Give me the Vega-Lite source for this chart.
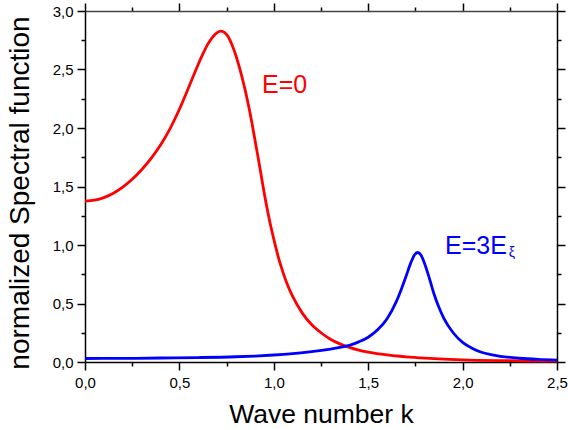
{
  "$schema": "https://vega.github.io/schema/vega-lite/v6.json",
  "width": 472,
  "height": 351,
  "autosize": "none",
  "padding": {"left": 85, "top": 11, "right": 11, "bottom": 68},
  "background": "white",
  "config": {
    "view": {"stroke": null},
    "font": "Liberation Sans",
    "axis": {
      "grid": false,
      "domainColor": "black",
      "domainWidth": 1.5,
      "tickColor": "black",
      "tickWidth": 1.5,
      "labelColor": "black",
      "labelFont": "Liberation Sans",
      "labelFontSize": 15,
      "labelOverlap": false,
      "labelFlush": false,
      "titleFont": "Liberation Sans",
      "titleFontWeight": "normal",
      "titleColor": "black"
    }
  },
  "datasets": {
    "curves": [
      {"series": "E=0", "k": 0.0, "v": 1.375},
      {"series": "E=0", "k": 0.05, "v": 1.383},
      {"series": "E=0", "k": 0.1, "v": 1.405},
      {"series": "E=0", "k": 0.15, "v": 1.443},
      {"series": "E=0", "k": 0.2, "v": 1.495},
      {"series": "E=0", "k": 0.25, "v": 1.562},
      {"series": "E=0", "k": 0.3, "v": 1.643},
      {"series": "E=0", "k": 0.35, "v": 1.74},
      {"series": "E=0", "k": 0.4, "v": 1.855},
      {"series": "E=0", "k": 0.45, "v": 1.993},
      {"series": "E=0", "k": 0.5, "v": 2.16},
      {"series": "E=0", "k": 0.55, "v": 2.35},
      {"series": "E=0", "k": 0.6, "v": 2.545},
      {"series": "E=0", "k": 0.625, "v": 2.635},
      {"series": "E=0", "k": 0.65, "v": 2.715},
      {"series": "E=0", "k": 0.675, "v": 2.775},
      {"series": "E=0", "k": 0.7, "v": 2.815},
      {"series": "E=0", "k": 0.72, "v": 2.828},
      {"series": "E=0", "k": 0.74, "v": 2.815},
      {"series": "E=0", "k": 0.76, "v": 2.775},
      {"series": "E=0", "k": 0.78, "v": 2.705},
      {"series": "E=0", "k": 0.8, "v": 2.615},
      {"series": "E=0", "k": 0.82, "v": 2.505},
      {"series": "E=0", "k": 0.84, "v": 2.38},
      {"series": "E=0", "k": 0.86, "v": 2.24},
      {"series": "E=0", "k": 0.88, "v": 2.08},
      {"series": "E=0", "k": 0.9, "v": 1.9},
      {"series": "E=0", "k": 0.92, "v": 1.72},
      {"series": "E=0", "k": 0.94, "v": 1.53},
      {"series": "E=0", "k": 0.96, "v": 1.35},
      {"series": "E=0", "k": 0.98, "v": 1.19},
      {"series": "E=0", "k": 1.0, "v": 1.05},
      {"series": "E=0", "k": 1.025, "v": 0.89},
      {"series": "E=0", "k": 1.05, "v": 0.76},
      {"series": "E=0", "k": 1.075, "v": 0.65},
      {"series": "E=0", "k": 1.1, "v": 0.56},
      {"series": "E=0", "k": 1.15, "v": 0.42},
      {"series": "E=0", "k": 1.2, "v": 0.32},
      {"series": "E=0", "k": 1.25, "v": 0.25},
      {"series": "E=0", "k": 1.3, "v": 0.195},
      {"series": "E=0", "k": 1.35, "v": 0.155},
      {"series": "E=0", "k": 1.4, "v": 0.125},
      {"series": "E=0", "k": 1.45, "v": 0.102},
      {"series": "E=0", "k": 1.5, "v": 0.085},
      {"series": "E=0", "k": 1.6, "v": 0.06},
      {"series": "E=0", "k": 1.7, "v": 0.044},
      {"series": "E=0", "k": 1.8, "v": 0.033},
      {"series": "E=0", "k": 1.9, "v": 0.025},
      {"series": "E=0", "k": 2.0, "v": 0.019},
      {"series": "E=0", "k": 2.2, "v": 0.012},
      {"series": "E=0", "k": 2.4, "v": 0.008},
      {"series": "E=0", "k": 2.5, "v": 0.007},
      {"series": "E=3Eξ", "k": 0.0, "v": 0.03},
      {"series": "E=3Eξ", "k": 0.2, "v": 0.031},
      {"series": "E=3Eξ", "k": 0.4, "v": 0.034},
      {"series": "E=3Eξ", "k": 0.6, "v": 0.038},
      {"series": "E=3Eξ", "k": 0.8, "v": 0.045},
      {"series": "E=3Eξ", "k": 0.9, "v": 0.051},
      {"series": "E=3Eξ", "k": 1.0, "v": 0.06},
      {"series": "E=3Eξ", "k": 1.1, "v": 0.072},
      {"series": "E=3Eξ", "k": 1.2, "v": 0.088},
      {"series": "E=3Eξ", "k": 1.3, "v": 0.11},
      {"series": "E=3Eξ", "k": 1.35, "v": 0.124},
      {"series": "E=3Eξ", "k": 1.4, "v": 0.142},
      {"series": "E=3Eξ", "k": 1.45, "v": 0.172},
      {"series": "E=3Eξ", "k": 1.5, "v": 0.212},
      {"series": "E=3Eξ", "k": 1.55, "v": 0.275},
      {"series": "E=3Eξ", "k": 1.6, "v": 0.37},
      {"series": "E=3Eξ", "k": 1.65, "v": 0.52},
      {"series": "E=3Eξ", "k": 1.675, "v": 0.62},
      {"series": "E=3Eξ", "k": 1.7, "v": 0.73},
      {"series": "E=3Eξ", "k": 1.725, "v": 0.845},
      {"series": "E=3Eξ", "k": 1.745, "v": 0.915},
      {"series": "E=3Eξ", "k": 1.762, "v": 0.936},
      {"series": "E=3Eξ", "k": 1.78, "v": 0.912},
      {"series": "E=3Eξ", "k": 1.8, "v": 0.835},
      {"series": "E=3Eξ", "k": 1.825, "v": 0.71},
      {"series": "E=3Eξ", "k": 1.85, "v": 0.575},
      {"series": "E=3Eξ", "k": 1.875, "v": 0.465},
      {"series": "E=3Eξ", "k": 1.9, "v": 0.375},
      {"series": "E=3Eξ", "k": 1.95, "v": 0.25},
      {"series": "E=3Eξ", "k": 2.0, "v": 0.168},
      {"series": "E=3Eξ", "k": 2.05, "v": 0.118},
      {"series": "E=3Eξ", "k": 2.1, "v": 0.083},
      {"series": "E=3Eξ", "k": 2.15, "v": 0.063},
      {"series": "E=3Eξ", "k": 2.2, "v": 0.049},
      {"series": "E=3Eξ", "k": 2.3, "v": 0.032},
      {"series": "E=3Eξ", "k": 2.4, "v": 0.022},
      {"series": "E=3Eξ", "k": 2.5, "v": 0.016}
    ],
    "labels": [
      {"series": "E=0", "text": "E=0", "k": 0.9375, "v": 2.3},
      {"series": "E=3Eξ", "text": "E=3E", "k": 1.907, "v": 0.927}
    ],
    "subs": [
      {"series": "E=3Eξ", "text": "ξ", "k": 2.245, "v": 0.9}
    ]
  },
  "resolve": {"axis": {"x": "independent", "y": "independent"}},
  "layer": [
    {
      "data": {"name": "curves"},
      "mark": {"type": "line", "strokeWidth": 2.8, "interpolate": "monotone"},
      "encoding": {
        "x": {
          "field": "k", "type": "quantitative",
          "scale": {"domain": [0, 2.5], "nice": false, "zero": false},
          "axis": {
            "orient": "bottom",
            "values": [0, 0.25, 0.5, 0.75, 1, 1.25, 1.5, 1.75, 2, 2.25, 2.5],
            "labelExpr": "abs(datum.value*2 - round(datum.value*2)) > 0.01 ? '' : replace(format(datum.value, '.1f'), '.', ',')",
            "tickSize": {"condition": {"test": "abs(datum.value*2 - round(datum.value*2)) > 0.01", "value": 4}, "value": 8},
            "labelPadding": 5,
            "title": "Wave number k",
            "titleFontSize": 26.5,
            "titleX": 236,
            "titleY": 60,
            "titleAlign": "center",
            "titleBaseline": "alphabetic"
          }
        },
        "y": {
          "field": "v", "type": "quantitative",
          "scale": {"domain": [0, 3], "nice": false, "zero": false},
          "axis": {
            "orient": "left",
            "values": [0, 0.25, 0.5, 0.75, 1, 1.25, 1.5, 1.75, 2, 2.25, 2.5, 2.75, 3],
            "labelExpr": "abs(datum.value*2 - round(datum.value*2)) > 0.01 ? '' : replace(format(datum.value, '.1f'), '.', ',')",
            "tickSize": {"condition": {"test": "abs(datum.value*2 - round(datum.value*2)) > 0.01", "value": 4}, "value": 8},
            "labelPadding": 4,
            "title": "normalized Spectral function",
            "titleFontSize": 28,
            "titleAngle": 270,
            "titleX": -57,
            "titleY": 181.5,
            "titleAlign": "center",
            "titleBaseline": "alphabetic"
          }
        },
        "color": {
          "field": "series", "type": "nominal",
          "scale": {"domain": ["E=0", "E=3Eξ"], "range": ["#ff0000", "#0000ff"]},
          "legend": null
        }
      }
    },
    {
      "data": {"name": "curves"},
      "mark": {"type": "line", "strokeOpacity": 0},
      "encoding": {
        "x": {
          "field": "k", "type": "quantitative",
          "scale": {"domain": [0, 2.5], "nice": false, "zero": false},
          "axis": {
            "orient": "top",
            "values": [0, 0.25, 0.5, 0.75, 1, 1.25, 1.5, 1.75, 2, 2.25, 2.5],
            "labels": false,
            "title": null,
            "domainColor": "#444444",
            "tickSize": {"condition": {"test": "abs(datum.value*2 - round(datum.value*2)) > 0.01", "value": 4}, "value": 8}
          }
        },
        "y": {
          "field": "v", "type": "quantitative",
          "scale": {"domain": [0, 3], "nice": false, "zero": false},
          "axis": {
            "orient": "right",
            "values": [0, 0.25, 0.5, 0.75, 1, 1.25, 1.5, 1.75, 2, 2.25, 2.5, 2.75, 3],
            "labels": false,
            "title": null,
            "tickSize": {"condition": {"test": "abs(datum.value*2 - round(datum.value*2)) > 0.01", "value": 4}, "value": 8}
          }
        },
        "detail": {"field": "series", "type": "nominal"}
      }
    },
    {
      "data": {"name": "labels"},
      "mark": {"type": "text", "align": "left", "baseline": "alphabetic", "fontSize": 25, "font": "Liberation Sans"},
      "encoding": {
        "x": {"field": "k", "type": "quantitative", "axis": null},
        "y": {"field": "v", "type": "quantitative", "axis": null},
        "text": {"field": "text"},
        "color": {"field": "series", "type": "nominal", "legend": null}
      }
    },
    {
      "data": {"name": "subs"},
      "mark": {"type": "text", "align": "left", "baseline": "alphabetic", "fontSize": 14, "font": "Liberation Sans"},
      "encoding": {
        "x": {"field": "k", "type": "quantitative", "axis": null},
        "y": {"field": "v", "type": "quantitative", "axis": null},
        "text": {"field": "text"},
        "color": {"field": "series", "type": "nominal", "legend": null}
      }
    }
  ]
}
